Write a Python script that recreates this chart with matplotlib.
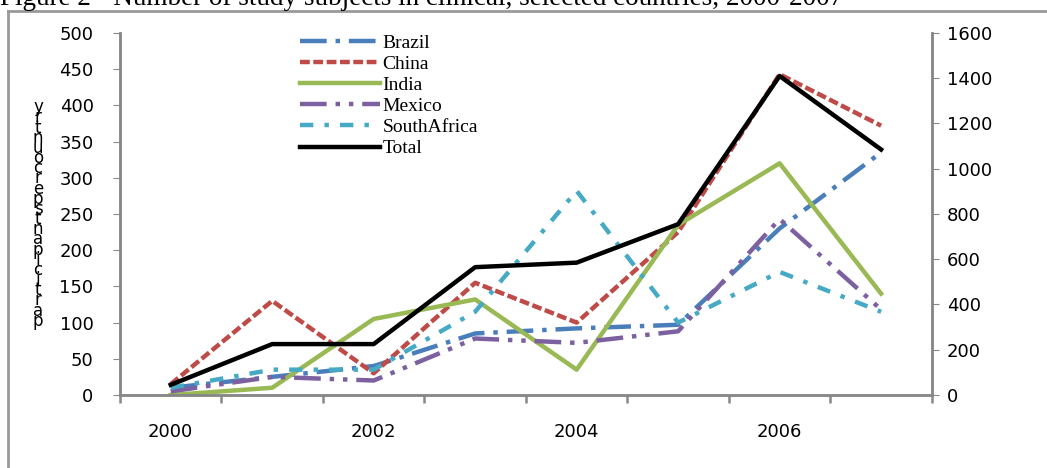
import matplotlib
matplotlib.use("Agg")
import matplotlib.pyplot as plt
from matplotlib.lines import Line2D

# data
years = [2000, 2001, 2002, 2003, 2004, 2005, 2006, 2007]
brazil = [10, 25, 40, 85, 92, 97, 230, 335]
china = [15, 130, 30, 155, 100, 225, 443, 372]
india = [0, 10, 105, 132, 35, 235, 320, 140]
mexico = [5, 25, 20, 78, 72, 88, 243, 118]
south_africa = [10, 35, 35, 115, 282, 100, 170, 115]
total = [45, 225, 225, 565, 585, 755, 1410, 1085]

left_ticks = list(range(0, 501, 50))
right_ticks = list(range(0, 1601, 200))
year_labels = ["2000", "", "2002", "", "2004", "", "2006", ""]

fig = plt.figure(figsize=(10.47, 4.68), dpi=100)
ax = fig.add_axes([0.1146, 0.156, 0.7754, 0.7735])
ax2 = ax.twinx()

x = list(range(len(years)))
lw = 3.2
styles = {
    "Brazil": dict(color="#4A7EBB", dashes=(6, 2, 1, 2)),
    "China": dict(color="#BE4B48", dashes=(2.2, 0.8)),
    "India": dict(color="#98B954"),
    "Mexico": dict(color="#7D60A0", dashes=(6, 2, 1, 2, 1, 2)),
    "SouthAfrica": dict(color="#46AAC5", dashes=(3, 2.5, 1, 2.5)),
    "Total": dict(color="black"),
}
ax.plot(x, brazil, lw=lw, **styles["Brazil"])
ax.plot(x, china, lw=lw, **styles["China"])
ax.plot(x, india, lw=lw, **styles["India"])
ax.plot(x, mexico, lw=lw, **styles["Mexico"])
ax.plot(x, south_africa, lw=lw, **styles["SouthAfrica"])
ax2.plot(x, total, lw=lw, **styles["Total"])

ax.set_xlim(-0.5, len(years) - 0.5)
ax.set_ylim(0, 500)
ax2.set_ylim(0, 1600)
ax.set_yticks(left_ticks)
ax2.set_yticks(right_ticks)
ax.tick_params(axis="y", labelsize=13, length=5, color="#888888", pad=14)
ax2.tick_params(axis="y", labelsize=13, length=5, color="#888888", pad=6)

# category axis: ticks on the boundaries, labels in the middle
ax.set_xticks([i - 0.5 for i in range(len(years) + 1)])
ax.set_xticklabels([])
ax.set_xticks(x, minor=True)
ax.set_xticklabels(year_labels, minor=True)
ax.tick_params(axis="x", which="major", length=6, width=1.8, color="#888888")
ax.tick_params(axis="x", which="minor", length=0, labelsize=13, pad=20)

for a in (ax, ax2):
    a.spines["top"].set_visible(False)
    for s in ("left", "right", "bottom"):
        a.spines[s].set_color("#888888")
        a.spines[s].set_linewidth(1.8)

names = list(styles.keys())
handles = [Line2D([], [], lw=lw, **styles[n]) for n in names]
ax.legend(handles, names, loc="upper left", bbox_to_anchor=(0.2, 1.045),
          frameon=False, handlelength=4.1, handletextpad=0.15, labelspacing=0.18,
          prop={"family": "Liberation Serif", "size": 14})

# left axis title, stacked letters
label = "participantspercountry"
fig.text(38 / 1047, 1 - 214 / 468, "\n".join(reversed(label)), ha="center", va="center",
         fontsize=12, linespacing=0.44, color="black")

# cropped caption and outer frame
fig.text(0.0, 1 - 5 / 468, "Figure 2 - Number of study subjects in clinical, selected countries, 2000-2007",
         fontsize=19.5, family="Liberation Serif", va="baseline", ha="left")
fig.add_artist(Line2D([8 / 1047, 8 / 1047], [0, 1 - 11 / 468], color="#999999", lw=2))
fig.add_artist(Line2D([8 / 1047, 1], [1 - 11 / 468, 1 - 11 / 468], color="#999999", lw=2))

fig.savefig("out.png", dpi=100)
